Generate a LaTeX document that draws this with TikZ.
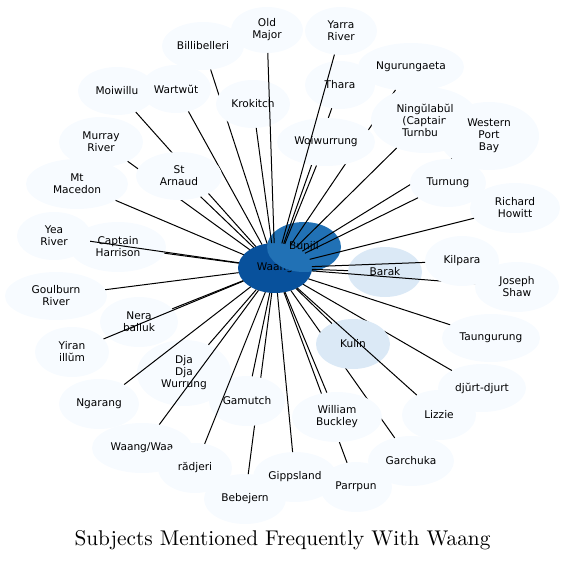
\documentclass[tikz,border=0pt]{standalone}
\usepackage{fontspec}
\newfontfamily\nodefont{DejaVu Sans}
\newfontfamily\titlefont{lmroman10-regular.otf}
\usetikzlibrary{shapes.geometric}
\definecolor{cLight}{HTML}{F7FBFF}
\definecolor{cPale}{HTML}{DBE9F6}
\definecolor{cMid}{HTML}{2171B5}
\definecolor{cDark}{HTML}{08519C}
\newcommand\gnode[7]{\node[gn, fill=#6, minimum width={2*#4pt}, minimum height={2*#5pt}] (#1) at (#2,#3) {#7};}
\newcommand\gedge[1]{\draw[link] (waang) -- (#1);}
\begin{document}
\begin{tikzpicture}[x=1pt,y=-1pt,
  gn/.style={ellipse, inner sep=0pt, outer sep=0pt, align=center, text=black,
    font=\nodefont\fontsize{10.6}{12}\selectfont},
  link/.style={draw=black, line width=1pt}]
\useasboundingbox (0,0) rectangle (565,560);
\gnode{waang}{275}{268}{37}{25}{cDark}{Waang}
\gnode{bunjil}{304}{247}{37}{25}{cMid}{Bunjil}
\gnode{moiwillu}{117}{91}{39}{24}{cLight}{Moiwillu}\gedge{moiwillu}
\gnode{wartwut}{176}{89}{35}{24}{cLight}{Wartwŭt}\gedge{wartwut}
\gnode{murray}{101}{142}{42}{25}{cLight}{Murray\\River}\gedge{murray}
\gnode{starnaud}{179}{176}{43}{24}{cLight}{St\\Arnaud}\gedge{starnaud}
\gnode{macedon}{77}{184}{51}{25}{cLight}{Mt\\Macedon}\gedge{macedon}
\gnode{billi}{203}{46}{41}{24}{cLight}{Billibelleri}\gedge{billi}
\gnode{krokitch}{253}{104}{37}{24}{cLight}{Krokitch}\gedge{krokitch}
\gnode{oldmajor}{267}{30}{36}{23}{cLight}{Old\\Major}\gedge{oldmajor}
\gnode{thara}{340}{85}{35}{24}{cLight}{Thara}\gedge{thara}
\gnode{ngurung}{411}{67}{53}{24}{cLight}{Ngurungaeta}\gedge{ngurung}
\gnode{woiw}{326}{142}{49}{24}{cLight}{Woiwurrung}\gedge{woiw}
\gnode{yarra}{341}{31}{36}{24}{cLight}{Yarra\\River}\gedge{yarra}
\gnode{ningul}{425}{120}{54}{33}{cLight}{Ningŭlabŭl\\(Captain\\Turnbu\hphantom{ll)}}\gedge{ningul}
\gnode{wpb}{489}{136}{50}{34}{cLight}{Western\\Port\\Bay}\gedge{wpb}
\gnode{turnung}{448}{183}{38}{24}{cLight}{Turnung}\gedge{turnung}
\gnode{howitt}{515}{208}{45}{25}{cLight}{Richard\\Howitt}\gedge{howitt}
\gnode{barak}{385}{272}{37}{25}{cPale}{Barak}\gedge{barak}
\gnode{shaw}{517}{287}{42}{25}{cLight}{Joseph\\Shaw}\gedge{shaw}
\gnode{kilpara}{462}{261}{37}{25}{cLight}{Kilpara}\gedge{kilpara}
\gnode{taung}{491}{338}{49}{24}{cLight}{Taungurung}\gedge{taung}
\gnode{djurt}{482}{388}{44}{24}{cLight}{djŭrt-djurt}\gedge{djurt}
\gnode{garchuka}{411}{461}{43}{25}{cLight}{Garchuka}\gedge{garchuka}
\gnode{kulin}{353}{344}{37}{25}{cPale}{Kulin}\gedge{kulin}
\gnode{lizzie}{439}{415}{37}{25}{cLight}{Lizzie}\gedge{lizzie}
\gnode{gipps}{295}{477}{42}{25}{cLight}{Gippsland}\gedge{gipps}
\gnode{parrpun}{356}{487}{36}{25}{cLight}{Parrpun}\gedge{parrpun}
\gnode{buckley}{337}{417}{45}{25}{cLight}{William\\Buckley}\gedge{buckley}
\gnode{bebejern}{245}{499}{41}{25}{cLight}{Bebejern}\gedge{bebejern}
\gnode{gamutch}{247}{401}{38}{25}{cLight}{Gamutch}\gedge{gamutch}
\gnode{djadja}{184}{373}{47}{33}{cLight}{Dja\\Dja\\Wurrung}\gedge{djadja}
\gnode{ngarang}{99}{404}{40}{25}{cLight}{Ngarang}\gedge{ngarang}
\gnode{waangwaa}{142}{448}{50}{25}{cLight}{Waang/Waa}\gedge{waangwaa}
\gnode{radjeri}{195}{468}{37}{25}{cLight}{rădjeri}\gedge{radjeri}
\gnode{harrison}{118}{247}{48}{25}{cLight}{Captain\\Harrison}\gedge{harrison}
\gnode{yea}{54}{236}{37}{24}{cLight}{Yea\\River}\gedge{yea}
\gnode{nera}{139}{322}{39}{25}{cLight}{Nera\\balluk}\gedge{nera}
\gnode{yiran}{72}{352}{37}{25}{cLight}{Yiran\\illŭm}\gedge{yiran}
\gnode{goulburn}{56}{296}{51}{24}{cLight}{Goulburn\\River}\gedge{goulburn}
\node[anchor=base, font=\titlefont\fontsize{21.3}{26}\selectfont] (title) at (282.5,545) {Subjects Mentioned Frequently With Waang};
\end{tikzpicture}
\end{document}
